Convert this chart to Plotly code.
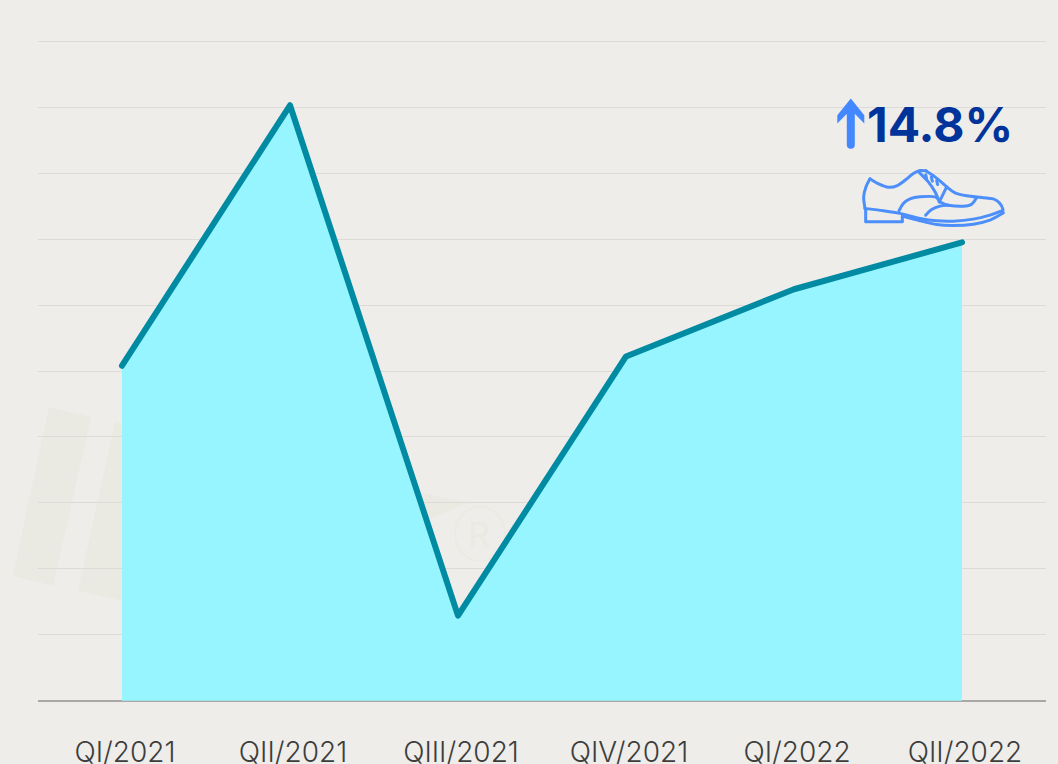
import plotly.graph_objects as go

categories = ["QI/2021", "QII/2021", "QIII/2021", "QIV/2021", "QI/2022", "QII/2022"]
values = [5.08, 9.03, 1.29, 5.22, 6.24, 6.95]
change_label = "14.8%"

W, H = 1058, 764
PAD = 0.02            # small axis overhang so the first and last gridlines are drawn
UNIT = 66.0
L, R = 38, 12
T = 41 - PAD * UNIT
B = H - 701 - PAD * UNIT
PW, PH = W - L - R, H - T - B
BG = "#eeedea"

def fx(x):
    return (x - L) / PW

def fy(y):
    return 1 - (y - T) / PH

def poly_path(points, close=False):
    out = [("M" if i == 0 else "L") + f"{fx(x):.5f},{fy(y):.5f}" for i, (x, y) in enumerate(points)]
    return " ".join(out) + (" Z" if close else "")

def smooth_path(points):
    """Catmull-Rom outline for the decorative shoe icon."""
    d = f"M{fx(points[0][0]):.5f},{fy(points[0][1]):.5f}"
    n = len(points)
    for i in range(n - 1):
        p0 = points[max(i - 1, 0)]
        p1 = points[i]
        p2 = points[i + 1]
        p3 = points[min(i + 2, n - 1)]
        c1 = (p1[0] + (p2[0] - p0[0]) / 6, p1[1] + (p2[1] - p0[1]) / 6)
        c2 = (p2[0] - (p3[0] - p1[0]) / 6, p2[1] - (p3[1] - p1[1]) / 6)
        d += (f" C{fx(c1[0]):.5f},{fy(c1[1]):.5f} {fx(c2[0]):.5f},{fy(c2[1]):.5f}"
              f" {fx(p2[0]):.5f},{fy(p2[1]):.5f}")
    return d

def z(points):
    return [(820 + x / 3, 80 + y / 3) for x, y in points]

WM = "#eaeae2"
SHOE = "#4c8ffb"
shapes = []
for poly in [
    [(49, 407), (91, 417), (53, 586), (13, 576)],
    [(115, 422), (160, 432), (122, 601), (78, 591)],
    [(408, 490), (468, 503), (417, 525)],
]:
    shapes.append(dict(type="path", xref="paper", yref="paper", path=poly_path(poly, True),
                       fillcolor=WM, line=dict(width=0), layer="below"))
shapes.append(dict(type="circle", xref="paper", yref="paper",
                   x0=fx(455), x1=fx(505), y0=fy(561), y1=fy(507),
                   line=dict(color=WM, width=1.5), layer="below"))

shoe_curves = [
    # heel back
    z([(135, 385), (131, 350), (138, 320), (150, 296)]),
    # upper, heel to collar
    z([(150, 296), (178, 312), (205, 321), (232, 316), (258, 298), (280, 280), (300, 271), (318, 272)]),
    # collar to toe
    z([(318, 272), (345, 290), (380, 320), (405, 338), (440, 347), (485, 352), (520, 356), (538, 368), (549, 388), (545, 400)]),
    # top of sole
    z([(135, 385), (190, 392), (250, 402), (300, 415), (350, 422), (400, 423), (460, 417), (510, 405), (545, 392)]),
    # lower sole
    z([(247, 408), (300, 422), (350, 433), (400, 436), (460, 432), (510, 420), (550, 398)]),
    # wing tip
    z([(237, 392), (250, 370), (270, 356), (300, 350), (345, 350), (362, 366), (385, 375), (430, 378),
       (455, 372), (470, 352)]),
    z([(317, 405), (335, 388), (360, 378), (385, 375)]),
    # eyelet stay
    z([(297, 276), (325, 305), (345, 335), (358, 365)]),
]
for seg in shoe_curves:
    shapes.append(dict(type="path", xref="paper", yref="paper", path=smooth_path(seg),
                       line=dict(color=SHOE, width=3), layer="above"))
shoe_straight = [
    z([(137, 388), (137, 425), (247, 425), (247, 408)]),
    z([(358, 365), (380, 320)]),
    z([(317, 284), (320, 296)]), z([(334, 291), (337, 303)]), z([(350, 301), (353, 313)]),
]
for seg in shoe_straight:
    shapes.append(dict(type="path", xref="paper", yref="paper", path=poly_path(seg),
                       line=dict(color=SHOE, width=3), layer="above"))

# up arrow: head plus round-ended shaft
ARROW = "#4488ff"
shapes.append(dict(type="path", xref="paper", yref="paper",
                   path=poly_path([(850.8, 98.3), (864.3, 115), (864.3, 123.3), (855, 113.7), (846.7, 113.7),
                                   (837.3, 123.3), (837.3, 115)], True),
                   fillcolor=ARROW, line=dict(width=0), layer="above"))
shapes.append(dict(type="path", xref="paper", yref="paper",
                   path=poly_path([(850.8, 110), (850.8, 144.5)]),
                   line=dict(color=ARROW, width=8), layer="above"))

fig = go.Figure(go.Scatter(
    x=categories, y=values, mode="lines", fill="tozeroy", fillcolor="#96f5ff",
    line=dict(color="#008ba3", width=6, shape="linear"), hoverinfo="skip",
))

fig.update_layout(
    width=W, height=H, autosize=False,
    margin=dict(l=L, r=R, t=T, b=B, pad=0),
    paper_bgcolor=BG, plot_bgcolor=BG, showlegend=False,
    font=dict(family="Inter, sans-serif", color="#3d3d3d"),
    shapes=shapes,
    annotations=[
        dict(text=f"<b>{change_label}</b>", xref="paper", yref="paper",
             x=fx(939.5), y=fy(124), xanchor="center", yanchor="middle",
             showarrow=False, font=dict(family="Inter", size=48, color="#00349b")),
        dict(text="R", xref="paper", yref="paper", x=fx(479), y=fy(535), xanchor="center", yanchor="middle",
             showarrow=False, font=dict(family="Inter", size=34, color=WM)),
    ],
    xaxis=dict(type="category", range=[-0.5, 5.5], showgrid=False, zeroline=False,
               showline=False, ticks="", automargin=False,
               tickfont=dict(family="Inter", size=28, color="#3d3d3d", weight=300),
               ticklabelstandoff=31, ticklabelshift=3),
    yaxis=dict(range=[-PAD, 10 + PAD], tickvals=list(range(1, 11)), showgrid=True, gridcolor="#dcdbd8", gridwidth=1,
               zeroline=True, zerolinecolor="#a9a8a6", zerolinewidth=2,
               showticklabels=False, ticks="", automargin=False),
)
fig.write_html("out.html", config=dict(displayModeBar=False),
               post_script="document.body.style.margin='0';document.body.style.overflow='hidden';"
               "document.querySelectorAll('.scatterlayer .js-line, .layer-above .shapelayer path').forEach(e=>{e.style.strokeLinecap='round';e.style.strokeLinejoin='round';});")
